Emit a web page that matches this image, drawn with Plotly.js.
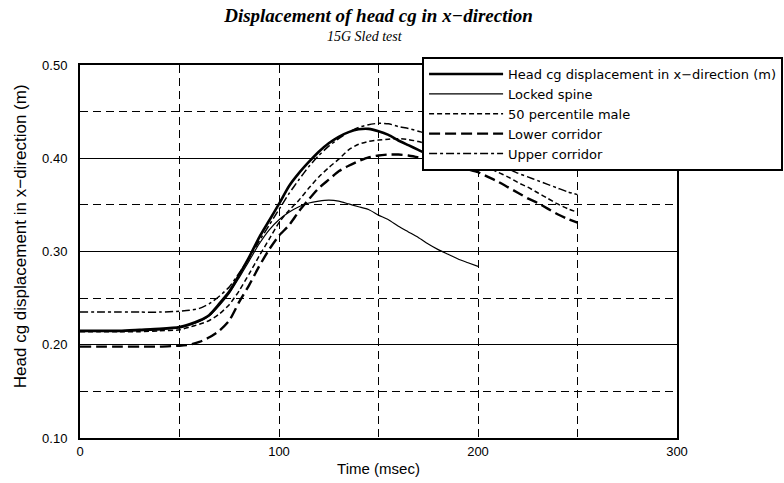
<!DOCTYPE html>
<html>
<head>
<meta charset="utf-8">
<script src="https://cdn.plot.ly/plotly-3.0.1.min.js"></script>
<style>html,body{margin:0;padding:0;background:#fff;}#chart{width:784px;height:483px;}</style>
</head>
<body>
<div id="chart"></div>
<script>
// Time (msec)
const timeSim = [0,10,20,30,40,50,55,60,65,70,75,80,85,90,95,100,105,110,115,120,125,130,135,140,145,150,155,160,165,170,175,180,185,190,195,200];
const timeCorr = [0,10,20,30,40,50,55,60,65,70,75,80,85,90,95,100,105,110,115,120,125,130,135,140,145,150,155,160,165,170,175,180,185,190,195,200,205,210,215,220,225,230,235,240,245,250];

// Head cg displacement in x-direction (m)
const headCg = [0.215,0.215,0.215,0.216,0.217,0.219,0.222,0.226,0.232,0.244,0.257,0.275,0.294,0.315,0.333,0.351,0.370,0.384,0.396,0.407,0.416,0.423,0.428,0.431,0.4315,0.429,0.425,0.419,0.414,0.409,0.404,0.400,0.396,0.392,0.389,0.386];
// Locked spine
const lockedSpine = [0.214,0.214,0.214,0.215,0.216,0.218,0.221,0.225,0.231,0.242,0.255,0.272,0.290,0.308,0.323,0.334,0.342,0.348,0.352,0.354,0.355,0.354,0.351,0.348,0.345,0.339,0.334,0.327,0.321,0.315,0.308,0.302,0.297,0.292,0.288,0.284];
// 50 percentile male
const p50Male = [0.214,0.214,0.214,0.214,0.215,0.216,0.219,0.222,0.226,0.233,0.243,0.258,0.276,0.295,0.313,0.331,0.344,0.355,0.368,0.380,0.390,0.399,0.409,0.415,0.418,0.4195,0.4205,0.421,0.420,0.418,0.415,0.412,0.408,0.404,0.399,0.394,0.390,0.385,0.380,0.374,0.369,0.363,0.357,0.351,0.346,0.342];
// Lower corridor
const lowerCorr = [0.198,0.198,0.198,0.198,0.198,0.199,0.200,0.203,0.208,0.215,0.226,0.246,0.264,0.284,0.302,0.317,0.328,0.343,0.356,0.368,0.377,0.386,0.392,0.397,0.401,0.403,0.404,0.404,0.403,0.401,0.399,0.397,0.394,0.391,0.388,0.385,0.380,0.375,0.369,0.363,0.357,0.352,0.346,0.340,0.335,0.331];
// Upper corridor
const upperCorr = [0.235,0.235,0.235,0.235,0.235,0.236,0.237,0.239,0.244,0.252,0.262,0.277,0.293,0.311,0.328,0.345,0.362,0.377,0.391,0.403,0.413,0.421,0.428,0.433,0.436,0.4375,0.437,0.434,0.432,0.429,0.426,0.421,0.417,0.412,0.407,0.402,0.398,0.394,0.389,0.384,0.380,0.376,0.372,0.368,0.364,0.361];

const seriesNames = ['Head cg displacement in x\u2212direction (m)','Locked spine','50 percentile male','Lower corridor','Upper corridor'];
const chartTitle = 'Displacement of head cg in x\u2212direction';
const chartSubtitle = '15G Sled test';
const xTitle = 'Time (msec)';
const yTitle = 'Head cg displacement in x\u2212direction (m)';

const sans = 'Liberation Sans, Arial, sans-serif';
const serif = 'Liberation Serif, Times New Roman, serif';

const traces = [
  {x: timeSim, y: headCg, name: seriesNames[0], mode: 'lines', line: {color: '#000', width: 2.6, shape: 'spline', smoothing: 0.6}},
  {x: timeSim, y: lockedSpine, name: seriesNames[1], mode: 'lines', line: {color: '#000', width: 1.2, shape: 'spline', smoothing: 0.6}},
  {x: timeCorr, y: p50Male, name: seriesNames[2], mode: 'lines', line: {color: '#000', width: 1.5, dash: '5px,3px', shape: 'spline', smoothing: 0.6}},
  {x: timeCorr, y: lowerCorr, name: seriesNames[3], mode: 'lines', line: {color: '#000', width: 2.4, dash: '11px,5px', shape: 'spline', smoothing: 0.6}},
  {x: timeCorr, y: upperCorr, name: seriesNames[4], mode: 'lines', line: {color: '#000', width: 1.5, dash: '8px,3px,3px,3px', shape: 'spline', smoothing: 0.6}}
];

const layout = {
  width: 784, height: 483,
  margin: {l: 80, r: 107, t: 65, b: 45, autoexpand: false},
  paper_bgcolor: '#fff', plot_bgcolor: '#fff',
  font: {family: sans, color: '#000', size: 12},
  title: {
    text: '<b><i>' + chartTitle + '</i></b>',
    font: {family: serif, size: 19, color: '#000'},
    x: 0.4828, xanchor: 'center', y: 0.968, yanchor: 'middle'
  },
  annotations: [
    {
      text: '<i>' + chartSubtitle + '</i>', xref: 'paper', yref: 'paper',
      x: 0.478, y: 1.0751, xanchor: 'center', yanchor: 'middle', showarrow: false,
      font: {family: serif, size: 14, color: '#000'}
    },
    {
      text: yTitle, xref: 'paper', yref: 'paper', textangle: -90,
      x: -0.0985, y: 0.5416, xanchor: 'center', yanchor: 'middle', showarrow: false,
      font: {family: sans, size: 17, color: '#000'}
    }
  ],
  xaxis: {
    range: [0, 300], tick0: 0, dtick: 100, ticks: '',
    showgrid: true, gridcolor: '#000', gridwidth: 1, griddash: '8px,5px',
    minor: {dtick: 50, tick0: 0, showgrid: true, gridcolor: '#000', gridwidth: 1, griddash: '8px,5px', ticks: ''},
    showline: true, mirror: true, linecolor: '#000', linewidth: 2, zeroline: false,
    tickfont: {family: sans, size: 13, color: '#000'},
    title: {text: xTitle, font: {family: sans, size: 15, color: '#000'}, standoff: 6}
  },
  yaxis: {
    range: [0.1, 0.5], tick0: 0.1, dtick: 0.1, tickformat: '.2f', ticks: '',
    showgrid: true, gridcolor: '#000', gridwidth: 1,
    minor: {dtick: 0.05, tick0: 0.1, showgrid: true, gridcolor: '#000', gridwidth: 1, griddash: '8px,5px', ticks: ''},
    showline: true, mirror: true, linecolor: '#000', linewidth: 2, zeroline: false,
    tickfont: {family: sans, size: 13, color: '#000'}, ticklabelstandoff: 8
  },
  showlegend: true,
  legend: {
    x: 0.573, xanchor: 'left', y: 1.0214, yanchor: 'top',
    xref: 'paper', yref: 'paper',
    bgcolor: '#fff', bordercolor: '#000', borderwidth: 2,
    font: {family: 'DejaVu Sans, sans-serif', size: 13, color: '#000'},
    itemwidth: 74, tracegroupgap: 0
  }
};

Plotly.newPlot('chart', traces, layout, {staticPlot: true, displayModeBar: false});
</script>
</body>
</html>
